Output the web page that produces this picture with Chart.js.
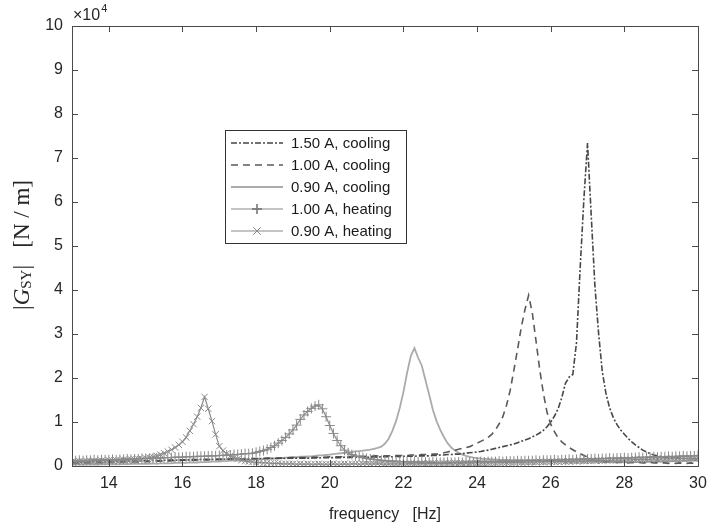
<!DOCTYPE html>
<html>
<head>
<meta charset="utf-8">
<script src="https://cdn.jsdelivr.net/npm/chart.js@4.4.1/dist/chart.umd.min.js"></script>
<style>
  html, body { margin: 0; padding: 0; background: #fff; }
  #wrap { width: 709px; height: 528px; }
</style>
</head>
<body>
<div id="wrap"><canvas id="gsy" width="709" height="528"></canvas></div>
<script>
// frequency grid [Hz]
const freq = [
  13.0, 13.1, 13.2, 13.3, 13.4, 13.5, 13.6, 13.7, 13.8, 13.9,
  14.0, 14.1, 14.2, 14.3, 14.4, 14.5, 14.6, 14.7, 14.8, 14.9,
  15.0, 15.1, 15.2, 15.3, 15.4, 15.5, 15.6, 15.7, 15.8, 15.9,
  16.0, 16.1, 16.2, 16.3, 16.4, 16.5, 16.6, 16.7, 16.8, 16.9,
  17.0, 17.1, 17.2, 17.3, 17.4, 17.5, 17.6, 17.7, 17.8, 17.9,
  18.0, 18.1, 18.2, 18.3, 18.4, 18.5, 18.6, 18.7, 18.8, 18.9,
  19.0, 19.1, 19.2, 19.3, 19.4, 19.5, 19.6, 19.7, 19.8, 19.9,
  20.0, 20.1, 20.2, 20.3, 20.4, 20.5, 20.6, 20.7, 20.8, 20.9,
  21.0, 21.1, 21.2, 21.3, 21.4, 21.5, 21.6, 21.7, 21.8, 21.9,
  22.0, 22.1, 22.2, 22.3, 22.4, 22.5, 22.6, 22.7, 22.8, 22.9,
  23.0, 23.1, 23.2, 23.3, 23.4, 23.5, 23.6, 23.7, 23.8, 23.9,
  24.0, 24.1, 24.2, 24.3, 24.4, 24.5, 24.6, 24.7, 24.8, 24.9,
  25.0, 25.1, 25.2, 25.3, 25.4, 25.5, 25.6, 25.7, 25.8, 25.9,
  26.0, 26.1, 26.2, 26.3, 26.4, 26.5, 26.6, 26.7, 26.8, 26.9,
  27.0, 27.1, 27.2, 27.3, 27.4, 27.5, 27.6, 27.7, 27.8, 27.9,
  28.0, 28.1, 28.2, 28.3, 28.4, 28.5, 28.6, 28.7, 28.8, 28.9,
  29.0, 29.1, 29.2, 29.3, 29.4, 29.5, 29.6, 29.7, 29.8, 29.9,
  30.0
];

// |G_SY| in units of 1e4 N/m, one value per frequency
const cool150 = [
  0.08, 0.08, 0.09, 0.08, 0.09, 0.09, 0.09, 0.10, 0.09, 0.10,
  0.10, 0.10, 0.11, 0.10, 0.11, 0.11, 0.11, 0.12, 0.11, 0.12,
  0.12, 0.12, 0.13, 0.12, 0.13, 0.13, 0.13, 0.14, 0.13, 0.14,
  0.14, 0.14, 0.14, 0.15, 0.14, 0.15, 0.15, 0.15, 0.15, 0.15,
  0.15, 0.16, 0.15, 0.16, 0.16, 0.16, 0.16, 0.16, 0.16, 0.17,
  0.16, 0.17, 0.17, 0.17, 0.17, 0.17, 0.17, 0.18, 0.17, 0.18,
  0.18, 0.18, 0.18, 0.18, 0.18, 0.18, 0.19, 0.18, 0.19, 0.19,
  0.19, 0.19, 0.19, 0.19, 0.20, 0.19, 0.20, 0.20, 0.20, 0.20,
  0.20, 0.20, 0.21, 0.20, 0.21, 0.21, 0.21, 0.21, 0.22, 0.21,
  0.22, 0.22, 0.22, 0.22, 0.23, 0.23, 0.23, 0.23, 0.24, 0.24,
  0.25, 0.25, 0.26, 0.26, 0.27, 0.27, 0.28, 0.29, 0.30, 0.31,
  0.32, 0.33, 0.35, 0.36, 0.38, 0.40, 0.42, 0.44, 0.46, 0.48,
  0.50, 0.53, 0.56, 0.59, 0.62, 0.66, 0.70, 0.75, 0.81, 0.89,
  1.00, 1.13, 1.30, 1.55, 1.88, 2.02, 2.08, 2.80, 4.50, 6.05,
  7.34, 5.70, 4.10, 3.02, 2.15, 1.65, 1.32, 1.10, 0.94, 0.82,
  0.72, 0.63, 0.55, 0.48, 0.42, 0.36, 0.32, 0.28, 0.25, 0.23,
  0.21, 0.20, 0.19, 0.19, 0.18, 0.18, 0.17, 0.17, 0.17, 0.16,
  0.16
];

const cool100 = [
  0.06, 0.06, 0.07, 0.06, 0.07, 0.07, 0.07, 0.08, 0.07, 0.08,
  0.08, 0.08, 0.09, 0.08, 0.09, 0.09, 0.09, 0.10, 0.09, 0.10,
  0.10, 0.10, 0.11, 0.11, 0.11, 0.12, 0.11, 0.12, 0.12, 0.12,
  0.13, 0.13, 0.13, 0.13, 0.14, 0.14, 0.14, 0.14, 0.15, 0.15,
  0.15, 0.15, 0.15, 0.16, 0.16, 0.16, 0.16, 0.16, 0.17, 0.17,
  0.17, 0.17, 0.17, 0.18, 0.18, 0.18, 0.18, 0.18, 0.18, 0.19,
  0.19, 0.19, 0.19, 0.19, 0.19, 0.20, 0.20, 0.20, 0.20, 0.20,
  0.21, 0.21, 0.21, 0.21, 0.21, 0.21, 0.22, 0.22, 0.22, 0.22,
  0.22, 0.22, 0.23, 0.23, 0.23, 0.23, 0.23, 0.24, 0.24, 0.24,
  0.24, 0.24, 0.25, 0.25, 0.25, 0.26, 0.26, 0.26, 0.27, 0.27,
  0.28, 0.30, 0.32, 0.34, 0.36, 0.38, 0.40, 0.42, 0.44, 0.48,
  0.52, 0.56, 0.60, 0.65, 0.72, 0.82, 0.96, 1.12, 1.38, 1.72,
  2.18, 2.65, 3.15, 3.55, 3.88, 3.48, 2.85, 2.20, 1.66, 1.22,
  0.95, 0.78, 0.64, 0.55, 0.48, 0.42, 0.37, 0.32, 0.28, 0.24,
  0.20, 0.16, 0.13, 0.11, 0.10, 0.09, 0.09, 0.08, 0.08, 0.08,
  0.08, 0.07, 0.08, 0.07, 0.08, 0.07, 0.07, 0.08, 0.07, 0.07,
  0.07, 0.07, 0.06, 0.07, 0.06, 0.07, 0.06, 0.06, 0.07, 0.06,
  0.06
];

const cool090 = [
  0.03, 0.03, 0.03, 0.03, 0.03, 0.03, 0.04, 0.03, 0.04, 0.04,
  0.04, 0.04, 0.04, 0.04, 0.05, 0.04, 0.05, 0.05, 0.05, 0.05,
  0.05, 0.05, 0.06, 0.05, 0.06, 0.06, 0.06, 0.06, 0.07, 0.07,
  0.07, 0.07, 0.08, 0.08, 0.08, 0.09, 0.09, 0.09, 0.10, 0.10,
  0.10, 0.11, 0.11, 0.12, 0.12, 0.12, 0.13, 0.13, 0.14, 0.14,
  0.15, 0.15, 0.16, 0.16, 0.17, 0.17, 0.18, 0.18, 0.19, 0.19,
  0.20, 0.20, 0.21, 0.21, 0.22, 0.22, 0.23, 0.24, 0.24, 0.25,
  0.26, 0.27, 0.28, 0.29, 0.30, 0.31, 0.32, 0.33, 0.34, 0.35,
  0.36, 0.37, 0.39, 0.41, 0.44, 0.51, 0.62, 0.80, 1.02, 1.32,
  1.68, 2.12, 2.50, 2.68, 2.46, 2.28, 1.95, 1.62, 1.28, 1.02,
  0.82, 0.66, 0.52, 0.42, 0.35, 0.30, 0.26, 0.23, 0.21, 0.19,
  0.18, 0.17, 0.16, 0.16, 0.15, 0.15, 0.14, 0.14, 0.14, 0.13,
  0.13, 0.13, 0.13, 0.12, 0.12, 0.12, 0.12, 0.12, 0.11, 0.11,
  0.11, 0.11, 0.11, 0.11, 0.10, 0.10, 0.10, 0.10, 0.10, 0.10,
  0.10, 0.10, 0.10, 0.09, 0.10, 0.09, 0.10, 0.09, 0.09, 0.10,
  0.09, 0.09, 0.10, 0.09, 0.09, 0.10, 0.09, 0.10, 0.10, 0.10,
  0.10, 0.11, 0.10, 0.11, 0.11, 0.11, 0.12, 0.11, 0.12, 0.12,
  0.12
];

const heat100 = [
  0.12, 0.12, 0.13, 0.12, 0.13, 0.13, 0.14, 0.13, 0.14, 0.14,
  0.14, 0.15, 0.14, 0.15, 0.15, 0.16, 0.15, 0.16, 0.16, 0.17,
  0.17, 0.17, 0.18, 0.18, 0.18, 0.19, 0.19, 0.19, 0.20, 0.20,
  0.20, 0.21, 0.21, 0.21, 0.22, 0.22, 0.22, 0.23, 0.23, 0.23,
  0.24, 0.24, 0.25, 0.25, 0.26, 0.26, 0.27, 0.28, 0.28, 0.29,
  0.31, 0.33, 0.35, 0.38, 0.42, 0.46, 0.52, 0.58, 0.65, 0.73,
  0.82, 0.93, 1.06, 1.16, 1.24, 1.31, 1.36, 1.39, 1.30, 1.12,
  0.92, 0.74, 0.58, 0.46, 0.36, 0.30, 0.26, 0.23, 0.21, 0.19,
  0.17, 0.16, 0.15, 0.14, 0.13, 0.12, 0.12, 0.11, 0.11, 0.10,
  0.10, 0.10, 0.09, 0.10, 0.09, 0.09, 0.09, 0.08, 0.09, 0.08,
  0.08, 0.08, 0.09, 0.08, 0.08, 0.09, 0.08, 0.09, 0.09, 0.09,
  0.09, 0.10, 0.09, 0.10, 0.10, 0.10, 0.11, 0.10, 0.11, 0.11,
  0.11, 0.12, 0.11, 0.12, 0.12, 0.12, 0.13, 0.12, 0.13, 0.13,
  0.13, 0.14, 0.13, 0.14, 0.14, 0.15, 0.14, 0.15, 0.15, 0.16,
  0.16, 0.16, 0.17, 0.16, 0.17, 0.17, 0.18, 0.17, 0.18, 0.18,
  0.19, 0.18, 0.19, 0.19, 0.20, 0.19, 0.20, 0.20, 0.21, 0.20,
  0.21, 0.21, 0.22, 0.21, 0.22, 0.22, 0.23, 0.22, 0.23, 0.23,
  0.24
];

const heat090 = [
  0.10, 0.10, 0.11, 0.10, 0.11, 0.11, 0.12, 0.11, 0.12, 0.12,
  0.13, 0.12, 0.13, 0.13, 0.14, 0.14, 0.15, 0.15, 0.16, 0.16,
  0.18, 0.19, 0.21, 0.23, 0.26, 0.29, 0.33, 0.37, 0.42, 0.48,
  0.55, 0.65, 0.80, 0.95, 1.12, 1.32, 1.57, 1.30, 1.02, 0.72,
  0.45, 0.35, 0.28, 0.23, 0.19, 0.16, 0.13, 0.11, 0.10, 0.09,
  0.08, 0.08, 0.07, 0.07, 0.06, 0.06, 0.06, 0.05, 0.05, 0.05,
  0.05, 0.04, 0.05, 0.04, 0.05, 0.04, 0.04, 0.05, 0.04, 0.04,
  0.04, 0.05, 0.04, 0.04, 0.05, 0.04, 0.05, 0.05, 0.04, 0.05,
  0.05, 0.04, 0.05, 0.05, 0.05, 0.04, 0.05, 0.05, 0.05, 0.05,
  0.05, 0.05, 0.06, 0.05, 0.05, 0.06, 0.05, 0.06, 0.06, 0.05,
  0.06, 0.06, 0.06, 0.06, 0.07, 0.06, 0.06, 0.07, 0.06, 0.07,
  0.07, 0.07, 0.07, 0.07, 0.08, 0.07, 0.08, 0.08, 0.08, 0.08,
  0.08, 0.09, 0.08, 0.09, 0.09, 0.09, 0.09, 0.10, 0.09, 0.10,
  0.10, 0.10, 0.10, 0.11, 0.10, 0.11, 0.11, 0.11, 0.12, 0.11,
  0.12, 0.12, 0.12, 0.13, 0.12, 0.13, 0.13, 0.13, 0.14, 0.13,
  0.14, 0.14, 0.14, 0.15, 0.14, 0.15, 0.15, 0.15, 0.16, 0.15,
  0.16, 0.16, 0.16, 0.17, 0.16, 0.17, 0.17, 0.17, 0.18, 0.17,
  0.18
];

const seriesLabels = ['1.50 A, cooling', '1.00 A, cooling', '0.90 A, cooling', '1.00 A, heating', '0.90 A, heating'];
const xTicks = [14, 16, 18, 20, 22, 24, 26, 28, 30];
const yTicks = [0, 1, 2, 3, 4, 5, 6, 7, 8, 9, 10];

function pts(ys) {
  return ys.map((y, i) => ({ x: freq[i], y: y }));
}

// box, inward ticks, exponent label, y title and legend in MATLAB style
const matlabAxes = {
  id: 'matlabAxes',
  afterDraw(chart) {
    const ctx = chart.ctx;
    const a = chart.chartArea;
    const xs = chart.scales.x, ys = chart.scales.y;
    ctx.save();
    ctx.strokeStyle = '#4a4a4a';
    ctx.lineWidth = 1;
    ctx.strokeRect(Math.round(a.left) + 0.5, Math.round(a.top) + 0.5,
      Math.round(a.right - a.left), Math.round(a.bottom - a.top));
    ctx.beginPath();
    xTicks.forEach(v => {
      const px = Math.round(xs.getPixelForValue(v)) + 0.5;
      ctx.moveTo(px, a.bottom); ctx.lineTo(px, a.bottom - 6);
      ctx.moveTo(px, a.top); ctx.lineTo(px, a.top + 6);
    });
    yTicks.forEach(v => {
      const py = Math.round(ys.getPixelForValue(v)) + 0.5;
      ctx.moveTo(a.left, py); ctx.lineTo(a.left + 6, py);
      ctx.moveTo(a.right, py); ctx.lineTo(a.right - 6, py);
    });
    ctx.stroke();

    // x10^4
    ctx.fillStyle = '#262626';
    ctx.textBaseline = 'alphabetic';
    ctx.textAlign = 'left';
    ctx.font = '16px "Liberation Sans", Arial, sans-serif';
    ctx.fillText('\u00d710', a.left + 1, a.top - 6);
    const w10 = ctx.measureText('\u00d710').width;
    ctx.font = '11px "Liberation Sans", Arial, sans-serif';
    ctx.fillText('4', a.left + 1 + w10 + 1, a.top - 14);

    // y title: |G_SY|   [N / m]
    ctx.save();
    ctx.translate(23, 245);
    ctx.rotate(-Math.PI / 2);
    const serif = '"Liberation Serif", "Times New Roman", serif';
    const parts = [
      { t: '|', f: '23px ' + serif, dy: 0 },
      { t: 'G', f: 'italic 23px ' + serif, dy: 0 },
      { t: 'SY', f: '15px ' + serif, dy: 4 },
      { t: '|', f: '23px ' + serif, dy: 0 },
      { t: '   [N / m]', f: '23px ' + serif, dy: 0 }
    ];
    let total = 0;
    parts.forEach(p => { ctx.font = p.f; p.w = ctx.measureText(p.t).width; total += p.w; });
    let cx = -total / 2;
    ctx.textBaseline = 'middle';
    parts.forEach(p => { ctx.font = p.f; ctx.fillText(p.t, cx, p.dy); cx += p.w; });
    ctx.restore();

    // legend
    const lx = 225, ly = 130, lw = 181, lh = 113, rowH = 22;
    ctx.fillStyle = '#fff';
    ctx.fillRect(lx, ly, lw, lh);
    ctx.strokeStyle = '#333';
    ctx.lineWidth = 1;
    ctx.strokeRect(lx + 0.5, ly + 0.5, lw, lh);
    ctx.font = '15px "Liberation Sans", Arial, sans-serif';
    ctx.textBaseline = 'middle';
    chart.data.datasets.forEach((ds, i) => {
      const yy = ly + 13 + i * rowH;
      ctx.save();
      ctx.strokeStyle = ds.borderColor;
      ctx.lineWidth = ds.borderWidth;
      ctx.setLineDash(ds.borderDash || []);
      ctx.beginPath();
      ctx.moveTo(lx + 6, yy); ctx.lineTo(lx + 58, yy);
      ctx.stroke();
      ctx.restore();
      if (ds.pointRadius > 0) {
        Chart.helpers.drawPoint(ctx, {
          pointStyle: ds.pointStyle, radius: 5, borderWidth: 1
        }, lx + 32, yy);
        ctx.strokeStyle = ds.pointBorderColor;
        ctx.lineWidth = 1;
        ctx.stroke();
      }
      ctx.fillStyle = '#1a1a1a';
      ctx.fillText(ds.label, lx + 66, yy + 1);
    });
    ctx.restore();
  }
};

const ctx = document.getElementById('gsy').getContext('2d');
const gsyChart = new Chart(ctx, {
  type: 'line',
  data: {
    datasets: [
      {
        label: seriesLabels[0], data: pts(cool150),
        borderColor: '#474747', borderWidth: 1.6, borderDash: [6, 2, 2, 2],
        pointRadius: 0, order: 3
      },
      {
        label: seriesLabels[1], data: pts(cool100),
        borderColor: '#5a5a5a', borderWidth: 1.6, borderDash: [7, 5],
        pointRadius: 0, order: 4
      },
      {
        label: seriesLabels[2], data: pts(cool090),
        borderColor: '#ababab', borderWidth: 1.8,
        pointRadius: 0, order: 5
      },
      {
        label: seriesLabels[3], data: pts(heat100),
        borderColor: '#8a8a8a', borderWidth: 1.2,
        pointStyle: 'cross', pointRadius: 5, pointBorderWidth: 1,
        pointBorderColor: '#8a8a8a', order: 2
      },
      {
        label: seriesLabels[4], data: pts(heat090),
        borderColor: '#8a8a8a', borderWidth: 1.2,
        pointStyle: 'crossRot', pointRadius: 4.5, pointBorderWidth: 1,
        pointBorderColor: '#8a8a8a', order: 1
      }
    ]
  },
  options: {
    responsive: false,
    animation: false,
    layout: { padding: { left: 0, right: 11, top: 26, bottom: 0 } },
    plugins: { legend: { display: false }, tooltip: { enabled: false } },
    elements: { line: { tension: 0 } },
    scales: {
      x: {
        type: 'linear', min: 13, max: 30,
        grid: { display: false, drawTicks: false },
        border: { display: false },
        afterBuildTicks: s => { s.ticks = xTicks.map(v => ({ value: v })); },
        afterFit: s => { s.height = 62; s.paddingLeft = 0; s.paddingRight = 0; },
        ticks: { font: { family: '"Liberation Sans", Arial, sans-serif', size: 16 }, color: '#262626', padding: 8, maxRotation: 0 },
        title: { display: true, text: 'frequency   [Hz]', font: { family: '"Liberation Sans", Arial, sans-serif', size: 16 }, color: '#262626', padding: { top: 4 } }
      },
      y: {
        type: 'linear', min: 0, max: 10,
        grid: { display: false, drawTicks: false },
        border: { display: false },
        afterBuildTicks: s => { s.ticks = yTicks.map(v => ({ value: v })); },
        afterFit: s => { s.width = 72; s.paddingTop = 0; s.paddingBottom = 0; },
        ticks: { font: { family: '"Liberation Sans", Arial, sans-serif', size: 16 }, color: '#262626', padding: 9 }
      }
    }
  },
  plugins: [matlabAxes]
});
</script>
</body>
</html>
